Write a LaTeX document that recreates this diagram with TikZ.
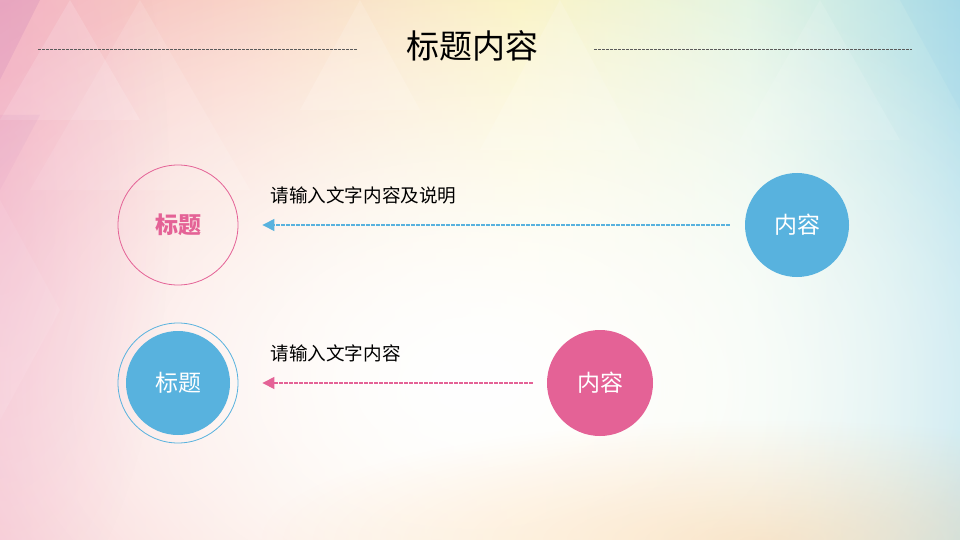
\documentclass[tikz,border=0pt]{standalone}
\usepackage{fontspec}
\setmainfont{Noto Sans CJK SC}
\usetikzlibrary{arrows.meta,fadings}
\definecolor{cblue}{RGB}{88,178,222}
\definecolor{cpink}{RGB}{228,98,150}
\definecolor{dashgray}{RGB}{90,90,90}
\pgfdeclarehorizontalshading{bgshade}{100bp}{rgb(0bp)=(0.86,0.52,0.74); rgb(20bp)=(0.94,0.62,0.74); rgb(38bp)=(0.97,0.74,0.66); rgb(52bp)=(0.97,0.92,0.60); rgb(64bp)=(0.84,0.94,0.84); rgb(78bp)=(0.52,0.80,0.90); rgb(100bp)=(0.34,0.70,0.86)}
\tikzfading[name=softfade, inner color=transparent!0, outer color=transparent!100]
\tikzset{
  titlefont/.style={font=\fontsize{33}{38}\selectfont},
  labelfont/.style={font=\fontsize{18.6}{22}\selectfont},
  circfont/.style={font=\fontsize{23}{27}\selectfont},
  sepline/.style={draw=dashgray, line width=0.7pt, dash pattern=on 2.5pt off 1.5pt},
  conn/.style={line width=1.1pt, dash pattern=on 3.5pt off 1.5pt, -{Triangle[length=12pt,width=12pt]}},
  bigcirc/.style={circle, inner sep=0pt, minimum size=#1},
}
\begin{document}
\begin{tikzpicture}[x=1pt,y=-1pt]
\useasboundingbox (0,0) rectangle (960,540);
\begin{scope}
\clip (0,0) rectangle (960,540);
\shade[shading=bgshade] (0,0) rectangle (960,540);
% facets
\fill[white, opacity=0.18] (0,120) -- (70,0) -- (140,120) -- cycle;
\fill[white, opacity=0.12] (140,0) -- (250,190) -- (30,190) -- cycle;
\fill[purple!60!blue, opacity=0.12] (0,0) -- (40,0) -- (0,80) -- cycle;
\fill[purple!60!blue, opacity=0.08] (0,115) -- (40,115) -- (0,190) -- cycle;
\fill[white, opacity=0.15] (360,0) -- (420,110) -- (300,110) -- cycle;
\fill[white, opacity=0.15] (560,0) -- (640,150) -- (480,150) -- cycle;
\fill[white, opacity=0.12] (820,0) -- (900,140) -- (740,140) -- cycle;
\fill[cblue, opacity=0.12] (900,0) -- (960,0) -- (960,110) -- cycle;
\fill[white, opacity=0.12] (0,200) -- (60,310) -- (0,420) -- cycle;
% white center
\fill[white, opacity=0.9, path fading=softfade] (500,390) ellipse (960 and 660);
\fill[white, path fading=softfade] (470,380) ellipse (640 and 440);
\fill[orange!50, opacity=0.35, path fading=softfade] (760,540) ellipse (500 and 120);
\fill[cpink!60, opacity=0.3, path fading=softfade] (0,200) ellipse (170 and 440);
\end{scope}
% title
\node[titlefont, text=black] (title) at (472,46) {标题内容};
\coordinate (l1) at (38,49);
\coordinate (l2) at (357,49);
\coordinate (r1) at (594,49);
\coordinate (r2) at (912,49);
\draw[sepline] (l1) -- (l2);
\draw[sepline] (r1) -- (r2);
% row 1
\node[bigcirc=120pt, draw=cpink, line width=0.8pt, circfont, text=cpink] (t1) at (178,225) {\bfseries 标题};
\node[bigcirc=104pt, fill=cblue, circfont, text=white] (c1) at (797,225) {内容};
\node[labelfont, anchor=west] (d1) at (267,195) {请输入文字内容及说明};
\draw[conn, color=cblue, shorten <=15pt, shorten >=24pt] (c1) -- (t1);
% row 2
\node[bigcirc=120pt, draw=cblue, line width=0.8pt] (t2) at (178,383) {};
\node[bigcirc=104pt, fill=cblue, circfont, text=white] (t2in) at (178,383) {标题};
\node[bigcirc=106pt, fill=cpink, circfont, text=white] (c2) at (600,383) {内容};
\node[labelfont, anchor=west] (d2) at (267,353) {请输入文字内容};
\draw[conn, color=cpink, shorten <=14pt, shorten >=24pt] (c2) -- (t2);
\end{tikzpicture}
\end{document}
